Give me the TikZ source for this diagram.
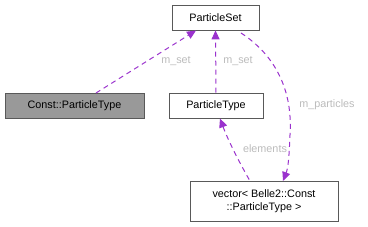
\documentclass[tikz,border=0pt]{standalone}
\usepackage{fontspec}
\setmainfont{Liberation Sans}
\usetikzlibrary{arrows.meta}
\definecolor{edgec}{HTML}{9A32CD}
\definecolor{lblc}{HTML}{BBBBBB}
\begin{document}
\begin{tikzpicture}[x=1pt,y=-1pt,
  box/.style={draw=black!65,line width=0.8pt,minimum height=25pt,inner sep=2pt,font=\fontsize{10.8}{13}\selectfont,align=center},
  rel/.style={draw=edgec,dashed,dash pattern=on 5pt off 4pt,line width=1pt,-{Triangle[length=9pt,width=8pt]}},
  relb/.style={draw=edgec,dashed,dash pattern=on 5pt off 4pt,line width=1pt,{Triangle[length=9pt,width=8pt]}-},
  lbl/.style={text=lblc,font=\fontsize{10.8}{13}\selectfont,inner sep=1pt}]
\useasboundingbox (0,0) rectangle (368,227);
\node[box,minimum width=87pt] (ps) at (215.5,17.5) {ParticleSet};
\node[box,minimum width=139pt,fill=black!40] (cpt) at (74.5,105.5) {Const::ParticleType};
\node[box,minimum width=94pt] (pt) at (216,105.5) {ParticleType};
\node[box,minimum width=148pt,minimum height=40pt,inner sep=1pt] (vec) at (264,201) {vector\textless{} Belle2::Const\\::ParticleType \textgreater};
\draw[rel] (96,93) -- (196,30.5);
\node[lbl] (l1) at (176,61) {m\_set};
\draw[rel] (pt.north) -- (ps.south);
\node[lbl] (l2) at (238,61) {m\_set};
\draw[rel] (241,33) .. controls (275,55) and (293,90) .. (290,135) .. controls (289,160) and (288,168) .. (283,181);
\node[lbl] (l3) at (327,105) {m\_particles};
\draw[relb] (220,118.5) .. controls (228,140) and (238,160) .. (250,181);
\node[lbl] (l4) at (265,149) {elements};
\end{tikzpicture}
\end{document}
